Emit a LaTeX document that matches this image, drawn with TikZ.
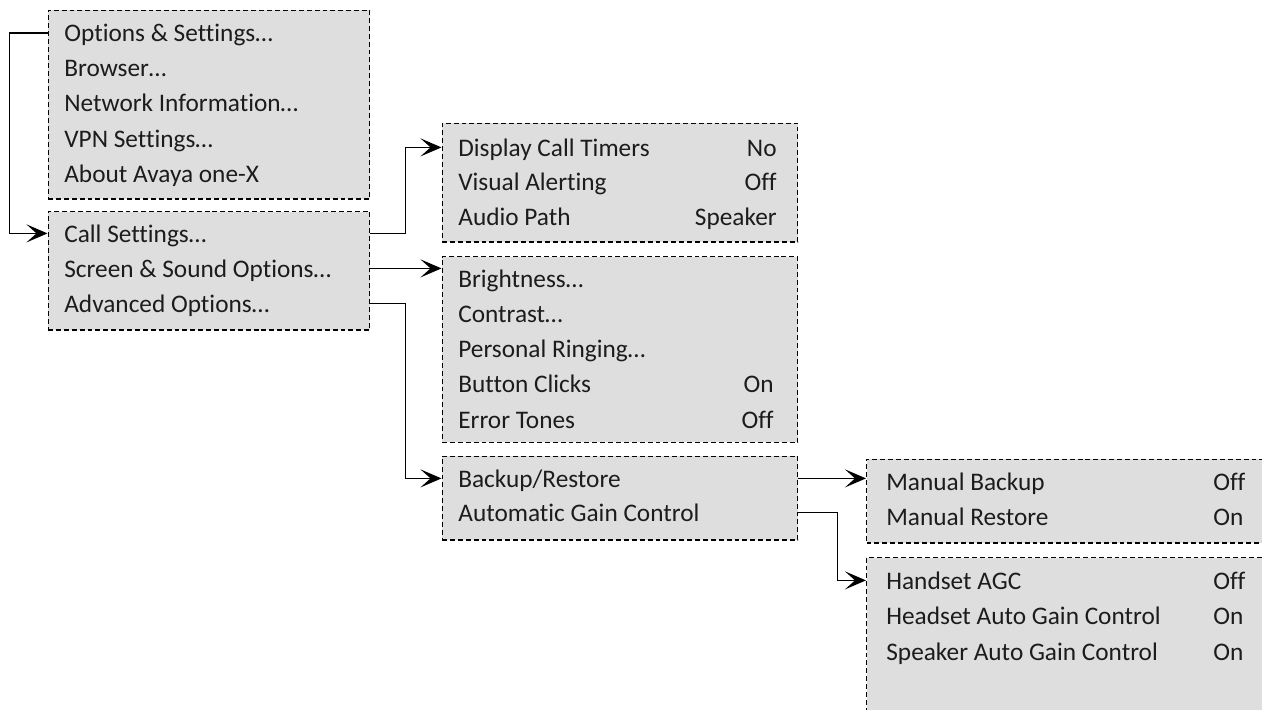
\documentclass[tikz,border=0pt]{standalone}
\usepackage{fontspec}
\setmainfont{Carlito}[Ligatures=NoCommon]
\usetikzlibrary{positioning,arrows.meta}
\definecolor{menugray}{HTML}{DEDEDE}
\definecolor{menutext}{HTML}{1C1C1C}

\begin{document}
\begin{tikzpicture}[x=0.02cm,y=-0.02cm,
 menubox/.style={draw=black,fill=menugray,dash pattern=on 2.8pt off 1.7pt,line width=0.6pt,anchor=north west,inner sep=0pt},
 item/.style={anchor=base west,inner sep=0pt,text height=12pt,text depth=2.2pt,font=\fontsize{14.4}{16}\selectfont,text=menutext},
 value/.style={item,anchor=base east},
 link/.style={draw=black,line width=1pt,-{Stealth[length=4.2mm,width=3.6mm,inset=2mm]}}]
\useasboundingbox (0,0) rectangle (1262,710);
\clip (0,0) rectangle (1262,710);

% Menu panels (the two on the right run off the page).
\node[menubox,minimum width=6.44cm,minimum height=3.78cm] (boxA) at (47.5,9.5) {};
\node[menubox,minimum width=6.44cm,minimum height=2.37cm] (boxB) at (47.5,211) {};
\node[menubox,minimum width=7.12cm,minimum height=2.38cm] (boxC) at (441.5,122.5) {};
\node[menubox,minimum width=7.12cm,minimum height=3.72cm] (boxD) at (441.5,256) {};
\node[menubox,minimum width=7.12cm,minimum height=1.68cm] (boxE) at (441.5,455.5) {};
\node[menubox,minimum width=8.2cm,minimum height=1.68cm] (boxF) at (866,458.5) {};
\node[menubox,minimum width=8.2cm,minimum height=4cm] (boxG) at (866,557) {};

% Entries of each panel, one line every ~35px.
\foreach \t [count=\i] in {{Options \& Settings…}, {Browser…}, {Network Information…}, {VPN Settings…}, {About Avaya one-X}}
  \node[item] (a\i) at (64,{6.3+35.2*\i}) {\t};
\foreach \t [count=\i] in {{Call Settings…}, {Screen \& Sound Options…}, {Advanced Options…}}
  \node[item] (b\i) at (64,{207+35*\i}) {\t};
\foreach \t/\v [count=\i] in {Display Call Timers/No, Visual Alerting/Off, Audio Path/Speaker} {
  \node[item] (c\i) at (458,{121.5+34.5*\i}) {\t};
  \node[value] (cv\i) at (777,{121.5+34.5*\i}) {\v};
}
\foreach \t [count=\i] in {{Brightness…}, {Contrast…}, {Personal Ringing…}, {Button Clicks}, {Error Tones}}
  \node[item] (d\i) at (458,{252+35.2*\i}) {\t};
\node[value] (dv4) at (774,392.8) {On};
\node[value] (dv5) at (774,428) {Off};
\foreach \t [count=\i] in {{Backup/Restore}, {Automatic Gain Control}}
  \node[item] (e\i) at (458,{453+34*\i}) {\t};
\foreach \t/\v [count=\i] in {Manual Backup/Off, Manual Restore/On} {
  \node[item] (f\i) at (886,{455+35*\i}) {\t};
  \node[item] (fv\i) at (1213,{455+35*\i}) {\v};
}
\foreach \t/\v [count=\i] in {Handset AGC/Off, Headset Auto Gain Control/On, Speaker Auto Gain Control/On} {
  \node[item] (g\i) at (886,{553.5+35.5*\i}) {\t};
  \node[item] (gv\i) at (1213,{553.5+35.5*\i}) {\v};
}

% Sub-menu connectors
\draw[link] (boxA.west |- a1) -- ++(-38,0) |- (boxB.west |- b1);
\draw[link] (boxB.east |- b1) -- ++(35,0) |- (boxC.west |- c1);
\draw[link] (boxB.east |- b2) -- (boxD.west |- b2);
\draw[link] (boxB.east |- b3) -- ++(35,0) |- (boxE.west |- e1);
\draw[link] (boxE.east |- e1) -- (boxF.west |- e1);
\draw[link] (boxE.east |- e2) -- ++(39,0) |- (boxG.west |- g1);
\end{tikzpicture}
\end{document}
